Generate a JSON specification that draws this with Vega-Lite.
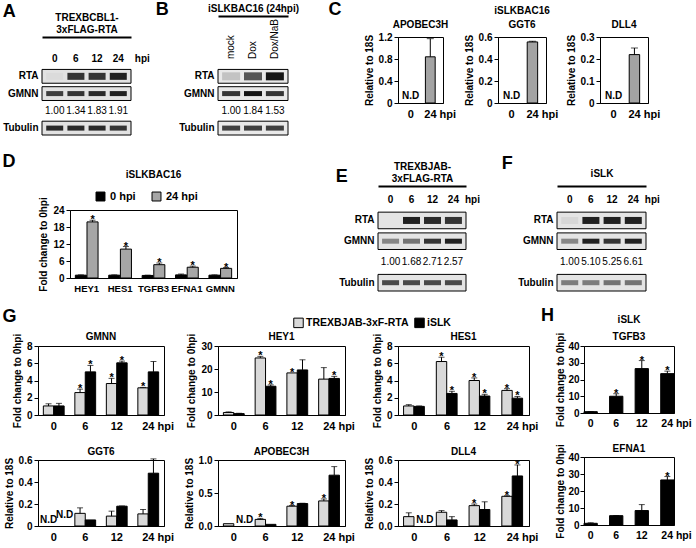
{
"$schema":"https://vega.github.io/schema/vega-lite/v6.json",
"padding":{"left":0,"top":0,"right":0,"bottom":0},
"background":"white",
"config":{
 "font":"Liberation Sans",
 "view":{"stroke":"black","strokeWidth":1},
 "axis":{"labelFont":"Liberation Sans","labelFontWeight":"bold","labelFontSize":10,"labelColor":"black","titleFont":"Liberation Sans","titleFontWeight":"bold","titleFontSize":10,"titleColor":"black","domainColor":"black","tickColor":"black","grid":false,"tickSize":4,"labelPadding":2,"titlePadding":4,"labelOverlap":false},
 "title":{"font":"Liberation Sans","fontWeight":"bold","fontSize":10,"color":"black","offset":4},
 "legend":{"labelFont":"Liberation Sans","labelFontWeight":"bold","labelFontSize":11,"labelColor":"black","padding":0},
 "text":{"font":"Liberation Sans","color":"black"},
 "tick":{"color":"black"},
 "rule":{"color":"black"}
},
"datasets":{
 "blotA":[
  {"kind":"lane","row":"lane","lane":"0","label":"0"},{"kind":"lane","row":"lane","lane":"6","label":"6"},{"kind":"lane","row":"lane","lane":"12","label":"12"},{"kind":"lane","row":"lane","lane":"24","label":"24"},
  {"kind":"hpi","row":"lane","lane":"24","label":"hpi"},
  {"kind":"frame","row":"RTA"},{"kind":"frame","row":"GMNN"},{"kind":"frame","row":"Tubulin"},
  {"kind":"band","row":"RTA","lane":"0","v":0.03},{"kind":"band","row":"RTA","lane":"6","v":0.85},{"kind":"band","row":"RTA","lane":"12","v":0.85},{"kind":"band","row":"RTA","lane":"24","v":0.95},
  {"kind":"band","row":"GMNN","lane":"0","v":0.8},{"kind":"band","row":"GMNN","lane":"6","v":0.85},{"kind":"band","row":"GMNN","lane":"12","v":0.9},{"kind":"band","row":"GMNN","lane":"24","v":0.95},
  {"kind":"band","row":"Tubulin","lane":"0","v":0.9},{"kind":"band","row":"Tubulin","lane":"6","v":0.9},{"kind":"band","row":"Tubulin","lane":"12","v":0.9},{"kind":"band","row":"Tubulin","lane":"24","v":0.85},
  {"kind":"ratio","row":"ratio","lane":"0","label":"1.00"},{"kind":"ratio","row":"ratio","lane":"6","label":"1.34"},{"kind":"ratio","row":"ratio","lane":"12","label":"1.83"},{"kind":"ratio","row":"ratio","lane":"24","label":"1.91"}
 ],
 "blotB":[
  {"kind":"lane","row":"lane","lane":"mock","label":"mock"},{"kind":"lane","row":"lane","lane":"Dox","label":"Dox"},{"kind":"lane","row":"lane","lane":"Dox/NaB","label":"Dox/NaB"},
  {"kind":"frame","row":"RTA"},{"kind":"frame","row":"GMNN"},{"kind":"frame","row":"Tubulin"},
  {"kind":"band","row":"RTA","lane":"mock","v":0.18},{"kind":"band","row":"RTA","lane":"Dox","v":0.7},{"kind":"band","row":"RTA","lane":"Dox/NaB","v":1.0},
  {"kind":"band","row":"GMNN","lane":"mock","v":0.85},{"kind":"band","row":"GMNN","lane":"Dox","v":1.0},{"kind":"band","row":"GMNN","lane":"Dox/NaB","v":0.85},
  {"kind":"band","row":"Tubulin","lane":"mock","v":0.8},{"kind":"band","row":"Tubulin","lane":"Dox","v":0.8},{"kind":"band","row":"Tubulin","lane":"Dox/NaB","v":0.8},
  {"kind":"ratio","row":"ratio","lane":"mock","label":"1.00"},{"kind":"ratio","row":"ratio","lane":"Dox","label":"1.84"},{"kind":"ratio","row":"ratio","lane":"Dox/NaB","label":"1.53"}
 ],
 "blotE":[
  {"kind":"lane","row":"lane","lane":"0","label":"0"},{"kind":"lane","row":"lane","lane":"6","label":"6"},{"kind":"lane","row":"lane","lane":"12","label":"12"},{"kind":"lane","row":"lane","lane":"24","label":"24"},
  {"kind":"hpi","row":"lane","lane":"24","label":"hpi"},
  {"kind":"frame","row":"RTA"},{"kind":"frame","row":"GMNN"},{"kind":"frame","row":"Tubulin"},
  {"kind":"band","row":"RTA","lane":"0","v":0.0},{"kind":"band","row":"RTA","lane":"6","v":0.95},{"kind":"band","row":"RTA","lane":"12","v":0.9},{"kind":"band","row":"RTA","lane":"24","v":0.85},
  {"kind":"band","row":"GMNN","lane":"0","v":0.45},{"kind":"band","row":"GMNN","lane":"6","v":0.55},{"kind":"band","row":"GMNN","lane":"12","v":0.85},{"kind":"band","row":"GMNN","lane":"24","v":0.95},
  {"kind":"band","row":"Tubulin","lane":"0","v":0.75},{"kind":"band","row":"Tubulin","lane":"6","v":0.75},{"kind":"band","row":"Tubulin","lane":"12","v":0.75},{"kind":"band","row":"Tubulin","lane":"24","v":0.75},
  {"kind":"ratio","row":"ratio","lane":"0","label":"1.00"},{"kind":"ratio","row":"ratio","lane":"6","label":"1.68"},{"kind":"ratio","row":"ratio","lane":"12","label":"2.71"},{"kind":"ratio","row":"ratio","lane":"24","label":"2.57"}
 ],
 "blotF":[
  {"kind":"lane","row":"lane","lane":"0","label":"0"},{"kind":"lane","row":"lane","lane":"6","label":"6"},{"kind":"lane","row":"lane","lane":"12","label":"12"},{"kind":"lane","row":"lane","lane":"24","label":"24"},
  {"kind":"hpi","row":"lane","lane":"24","label":"hpi"},
  {"kind":"frame","row":"RTA"},{"kind":"frame","row":"GMNN"},{"kind":"frame","row":"Tubulin"},
  {"kind":"band","row":"RTA","lane":"0","v":0.06},{"kind":"band","row":"RTA","lane":"6","v":0.95},{"kind":"band","row":"RTA","lane":"12","v":0.95},{"kind":"band","row":"RTA","lane":"24","v":0.95},
  {"kind":"band","row":"GMNN","lane":"0","v":0.45},{"kind":"band","row":"GMNN","lane":"6","v":0.95},{"kind":"band","row":"GMNN","lane":"12","v":0.85},{"kind":"band","row":"GMNN","lane":"24","v":0.95},
  {"kind":"band","row":"Tubulin","lane":"0","v":0.5},{"kind":"band","row":"Tubulin","lane":"6","v":0.5},{"kind":"band","row":"Tubulin","lane":"12","v":0.55},{"kind":"band","row":"Tubulin","lane":"24","v":0.55},
  {"kind":"ratio","row":"ratio","lane":"0","label":"1.00"},{"kind":"ratio","row":"ratio","lane":"6","label":"5.10"},{"kind":"ratio","row":"ratio","lane":"12","label":"5.25"},{"kind":"ratio","row":"ratio","lane":"24","label":"6.61"}
 ],
 "cApo":[{"t":"0","nd":"N.D"},{"t":"24","v":0.84,"hi":1.17}],
 "cGgt":[{"t":"0","nd":"N.D"},{"t":"24","v":0.555,"hi":0.562}],
 "cDll":[{"t":"0","nd":"N.D"},{"t":"24","v":0.22,"hi":0.25}],
 "d":[
  {"gene":"HEY1","cell":"0 hpi","v":1.0,"hi":1.1},{"gene":"HEY1","cell":"24 hpi","v":19.8,"hi":20.4,"s":"*"},
  {"gene":"HES1","cell":"0 hpi","v":1.0,"hi":1.1},{"gene":"HES1","cell":"24 hpi","v":10.2,"hi":11.1,"s":"*"},
  {"gene":"TGFB3","cell":"0 hpi","v":0.9,"hi":1.0},{"gene":"TGFB3","cell":"24 hpi","v":4.7,"hi":5.3,"s":"*"},
  {"gene":"EFNA1","cell":"0 hpi","v":1.1,"hi":1.4},{"gene":"EFNA1","cell":"24 hpi","v":3.8,"hi":4.2,"s":"*"},
  {"gene":"GMNN","cell":"0 hpi","v":1.0,"hi":1.1},{"gene":"GMNN","cell":"24 hpi","v":3.4,"hi":3.7,"s":"*"}
 ],
 "gmnn":[
  {"t":"0","cell":"TREXBJAB-3xF-RTA","v":1.05,"hi":1.3},{"t":"0","cell":"iSLK","v":1.05,"hi":1.35},
  {"t":"6","cell":"TREXBJAB-3xF-RTA","v":2.6,"hi":3.0,"s":"*"},{"t":"6","cell":"iSLK","v":5.0,"hi":5.75,"s":"*"},
  {"t":"12","cell":"TREXBJAB-3xF-RTA","v":3.65,"hi":4.25,"s":"*"},{"t":"12","cell":"iSLK","v":6.05,"hi":6.25,"s":"*"},
  {"t":"24","cell":"TREXBJAB-3xF-RTA","v":3.15,"hi":3.2,"s":"*"},{"t":"24","cell":"iSLK","v":5.0,"hi":6.2}
 ],
 "hey1":[
  {"t":"0","cell":"TREXBJAB-3xF-RTA","v":1.1,"hi":1.35},{"t":"0","cell":"iSLK","v":0.6,"hi":0.75},
  {"t":"6","cell":"TREXBJAB-3xF-RTA","v":24.8,"hi":25.5,"s":"*"},{"t":"6","cell":"iSLK","v":12.5,"hi":13.1,"s":"*"},
  {"t":"12","cell":"TREXBJAB-3xF-RTA","v":18.3,"hi":18.3,"s":"*"},{"t":"12","cell":"iSLK","v":19.6,"hi":24.0},
  {"t":"24","cell":"TREXBJAB-3xF-RTA","v":15.6,"hi":20.6},{"t":"24","cell":"iSLK","v":15.9,"hi":16.8,"s":"*"}
 ],
 "hes1":[
  {"t":"0","cell":"TREXBJAB-3xF-RTA","v":1.05,"hi":1.2},{"t":"0","cell":"iSLK","v":1.0,"hi":1.05},
  {"t":"6","cell":"TREXBJAB-3xF-RTA","v":6.2,"hi":6.7,"s":"*"},{"t":"6","cell":"iSLK","v":2.5,"hi":2.75,"s":"*"},
  {"t":"12","cell":"TREXBJAB-3xF-RTA","v":4.0,"hi":4.3,"s":"*"},{"t":"12","cell":"iSLK","v":2.2,"hi":2.4,"s":"*"},
  {"t":"24","cell":"TREXBJAB-3xF-RTA","v":2.85,"hi":3.05,"s":"*"},{"t":"24","cell":"iSLK","v":1.95,"hi":2.15,"s":"*"}
 ],
 "ggt6":[
  {"t":"0","cell":"TREXBJAB-3xF-RTA","nd":"N.D"},{"t":"0","cell":"iSLK","nd":"N.D"},
  {"t":"6","cell":"TREXBJAB-3xF-RTA","v":0.115,"hi":0.165},{"t":"6","cell":"iSLK","v":0.055,"hi":0.055},
  {"t":"12","cell":"TREXBJAB-3xF-RTA","v":0.09,"hi":0.135},{"t":"12","cell":"iSLK","v":0.18,"hi":0.182},
  {"t":"24","cell":"TREXBJAB-3xF-RTA","v":0.11,"hi":0.15},{"t":"24","cell":"iSLK","v":0.48,"hi":0.61}
 ],
 "apo":[
  {"t":"0","cell":"TREXBJAB-3xF-RTA","v":0.035,"hi":0.035},{"t":"0","cell":"iSLK","nd":"N.D"},
  {"t":"6","cell":"TREXBJAB-3xF-RTA","v":0.1,"hi":0.115,"s":"*"},{"t":"6","cell":"iSLK","v":0.025,"hi":0.025},
  {"t":"12","cell":"TREXBJAB-3xF-RTA","v":0.3,"hi":0.31,"s":"*"},{"t":"12","cell":"iSLK","v":0.34,"hi":0.345},
  {"t":"24","cell":"TREXBJAB-3xF-RTA","v":0.38,"hi":0.41,"s":"*"},{"t":"24","cell":"iSLK","v":0.77,"hi":0.9}
 ],
 "dll4":[
  {"t":"0","cell":"TREXBJAB-3xF-RTA","v":0.085,"hi":0.12},{"t":"0","cell":"iSLK","nd":"N.D"},
  {"t":"6","cell":"TREXBJAB-3xF-RTA","v":0.125,"hi":0.14},{"t":"6","cell":"iSLK","v":0.055,"hi":0.085},
  {"t":"12","cell":"TREXBJAB-3xF-RTA","v":0.185,"hi":0.2,"s":"*"},{"t":"12","cell":"iSLK","v":0.15,"hi":0.22},
  {"t":"24","cell":"TREXBJAB-3xF-RTA","v":0.27,"hi":0.275,"s":"*"},{"t":"24","cell":"iSLK","v":0.455,"hi":0.555,"s":"*"}
 ],
 "tgfb3":[{"t":"0","v":0.8,"hi":0.9},{"t":"6","v":10.0,"hi":11.5,"s":"*"},{"t":"12","v":26.5,"hi":31.3,"s":"*"},{"t":"24","v":23.5,"hi":25.0,"s":"*"}],
 "efna1":[{"t":"0","v":1.0,"hi":1.3},{"t":"6","v":5.5,"hi":5.6},{"t":"12","v":8.5,"hi":12.0},{"t":"24","v":26.5,"hi":28.5,"s":"*"}],
 "empty":[{}]
},
"resolve":{"scale":{"color":"independent","xOffset":"independent"},"legend":{"color":"independent"}},
"spacing":14,
"vconcat":[
 {"spacing":17,
  "resolve":{"scale":{"color":"independent","xOffset":"independent"},"legend":{"color":"independent"}},
  "vconcat":[
 {"hconcat":[
   {"width":1,"height":1,"view":{"stroke":null},"data":{"name":"empty"},"mark":{"type":"rect","opacity":0},"encoding":{}},
   {"title":{"text":"A","anchor":"start","frame":"bounds","fontSize":18,"dy":13},
    "width":89,"height":98,"view":{"stroke":null},"data":{"name":"blotA"},
    "encoding":{"y":{"field":"row","type":"nominal","scale":{"domain":["lane","RTA","GMNN","ratio","Tubulin"],"paddingInner":0.2,"paddingOuter":0.44,"align":1},"axis":{"title":null,"ticks":false,"domain":false,"labelPadding":4,"labelExpr":"datum.value=='lane'||datum.value=='ratio'?'':datum.value"}}},
    "layer":[
     {"transform":[{"filter":"datum.kind=='frame'"}],"mark":{"type":"rect","fill":"#e2e2e2","stroke":"black","strokeWidth":1}},
     {"transform":[{"filter":"datum.kind=='band'&&datum.row=='RTA'"}],"mark":{"type":"tick","orient":"horizontal","thickness":7,"color":"#151515"},"encoding":{"x":{"field":"lane","type":"nominal","scale":{"domain":["0","6","12","24"],"paddingInner":0,"paddingOuter":0.1},"axis":{"orient":"top","labels":false,"ticks":false,"domainWidth":2,"offset":0,"title":["TREXBCBL1-","3xFLAG-RTA"],"titlePadding":3,"titleLineHeight":12}},"opacity":{"field":"v","type":"quantitative","scale":null},"size":{"value":17}}},
     {"transform":[{"filter":"datum.kind=='band'&&datum.row!='RTA'"}],"mark":{"type":"tick","orient":"horizontal","thickness":5,"color":"#151515"},"encoding":{"x":{"field":"lane","type":"nominal"},"opacity":{"field":"v","type":"quantitative","scale":null},"size":{"value":17}}},
     {"transform":[{"filter":"datum.kind=='lane'"}],"mark":{"type":"text","fontSize":10,"fontWeight":"bold"},"encoding":{"x":{"field":"lane","type":"nominal"},"text":{"field":"label","type":"nominal"}}},
     {"transform":[{"filter":"datum.kind=='ratio'"}],"mark":{"type":"text","fontSize":10},"encoding":{"x":{"field":"lane","type":"nominal"},"text":{"field":"label","type":"nominal"}}},
     {"transform":[{"filter":"datum.kind=='hpi'"}],"mark":{"type":"text","fontSize":10,"fontWeight":"bold","dx":24},"encoding":{"x":{"field":"lane","type":"nominal"},"text":{"field":"label","type":"nominal"}}}
    ]},
   {"width":3,"height":1,"view":{"stroke":null},"data":{"name":"empty"},"mark":{"type":"rect","opacity":0},"encoding":{}},
   {"title":{"text":"B","anchor":"start","frame":"bounds","fontSize":18,"dx":-23,"dy":20},
    "width":70,"height":98,"view":{"stroke":null},"data":{"name":"blotB"},
    "encoding":{"y":{"field":"row","type":"nominal","scale":{"domain":["lane","RTA","GMNN","ratio","Tubulin"],"paddingInner":0.2,"paddingOuter":0.44,"align":1},"axis":{"title":null,"ticks":false,"domain":false,"labelPadding":4,"labelExpr":"datum.value=='lane'||datum.value=='ratio'?'':datum.value"}}},
    "layer":[
     {"transform":[{"filter":"datum.kind=='frame'"}],"mark":{"type":"rect","fill":"#e9e9e9","stroke":"black","strokeWidth":1}},
     {"transform":[{"filter":"datum.kind=='band'&&datum.row=='RTA'"}],"mark":{"type":"tick","orient":"horizontal","thickness":8,"color":"#151515"},"encoding":{"x":{"field":"lane","type":"nominal","scale":{"domain":["mock","Dox","Dox/NaB"],"paddingInner":0,"paddingOuter":0.1},"axis":{"orient":"top","labels":false,"ticks":false,"domainWidth":2,"offset":21,"title":"iSLKBAC16 (24hpi)","titlePadding":3}},"opacity":{"field":"v","type":"quantitative","scale":null},"size":{"value":18}}},
     {"transform":[{"filter":"datum.kind=='band'&&datum.row!='RTA'"}],"mark":{"type":"tick","orient":"horizontal","thickness":5,"color":"#151515"},"encoding":{"x":{"field":"lane","type":"nominal"},"opacity":{"field":"v","type":"quantitative","scale":null},"size":{"value":18}}},
     {"transform":[{"filter":"datum.kind=='lane'"}],"mark":{"type":"text","fontSize":10,"angle":270,"align":"left","baseline":"middle"},"encoding":{"x":{"field":"lane","type":"nominal"},"text":{"field":"label","type":"nominal"}}},
     {"transform":[{"filter":"datum.kind=='ratio'"}],"mark":{"type":"text","fontSize":10},"encoding":{"x":{"field":"lane","type":"nominal"},"text":{"field":"label","type":"nominal"}}}
    ]},
   {"width":27,"height":1,"view":{"stroke":null},"data":{"name":"empty"},"mark":{"type":"rect","opacity":0},"encoding":{}},
   {"title":{"text":"C","anchor":"start","frame":"bounds","fontSize":18,"dx":-35,"dy":17},
    "spacing":6,"align":"each",
    "resolve":{"scale":{"color":"independent","xOffset":"independent"},"legend":{"color":"independent"}},
    "hconcat":[
     {"title":{"text":"APOBEC3H","offset":2},"width":45,"height":66,"data":{"name":"cApo"},
      "encoding":{"x":{"field":"t","type":"ordinal","scale":{"domain":["0","24"],"paddingInner":0.5,"paddingOuter":0.4},"axis":{"title":null,"labelAngle":0,"ticks":false,"labelPadding":5,"labelFontSize":11,"labelExpr":"datum.value=='24'?'24 hpi':datum.label","labelAlign":{"condition":{"test":"datum.value=='24'","value":"left"},"value":"center"},"labelOffset":{"condition":{"test":"datum.value=='24'","value":-6},"value":0}}}},
      "layer":[
       {"transform":[{"filter":"isValid(datum.v)"}],"mark":{"type":"bar","fill":"#a3a3a3","stroke":"black","strokeWidth":1},"encoding":{"y":{"field":"v","type":"quantitative","scale":{"domain":[0,1.2],"nice":false},"axis":{"values":[0,0.4,0.8,1.2],"tickCount":10,"format":"~g","title":"Relative to 18S"}}}},
       {"transform":[{"filter":"isValid(datum.v)&&datum.hi>datum.v"}],"mark":{"type":"rule","color":"black"},"encoding":{"y":{"field":"v","type":"quantitative"},"y2":{"field":"hi"}}},
       {"transform":[{"filter":"isValid(datum.v)"}],"mark":{"type":"tick","orient":"horizontal","thickness":1,"color":"black"},"encoding":{"y":{"field":"hi","type":"quantitative"},"size":{"value":7}}},
       {"transform":[{"filter":"datum.nd=='N.D'"}],"mark":{"type":"text","baseline":"bottom","dy":-2,"fontWeight":"bold","fontSize":10},"encoding":{"y":{"datum":0,"type":"quantitative"},"text":{"field":"nd","type":"nominal"}}}
      ]},
     {"title":{"text":["iSLKBAC16","GGT6"],"offset":2,"lineHeight":14},"width":48,"height":66,"data":{"name":"cGgt"},
      "encoding":{"x":{"field":"t","type":"ordinal","scale":{"domain":["0","24"],"paddingInner":0.5,"paddingOuter":0.4},"axis":{"title":null,"labelAngle":0,"ticks":false,"labelPadding":5,"labelFontSize":11,"labelExpr":"datum.value=='24'?'24 hpi':datum.label","labelAlign":{"condition":{"test":"datum.value=='24'","value":"left"},"value":"center"},"labelOffset":{"condition":{"test":"datum.value=='24'","value":-6},"value":0}}}},
      "layer":[
       {"transform":[{"filter":"isValid(datum.v)"}],"mark":{"type":"bar","fill":"#a3a3a3","stroke":"black","strokeWidth":1},"encoding":{"y":{"field":"v","type":"quantitative","scale":{"domain":[0,0.6],"nice":false},"axis":{"values":[0,0.2,0.4,0.6],"tickCount":10,"format":"~g","title":"Relative to 18S"}}}},
       {"transform":[{"filter":"isValid(datum.v)&&datum.hi>datum.v"}],"mark":{"type":"rule","color":"black"},"encoding":{"y":{"field":"v","type":"quantitative"},"y2":{"field":"hi"}}},
       {"transform":[{"filter":"isValid(datum.v)"}],"mark":{"type":"tick","orient":"horizontal","thickness":1,"color":"black"},"encoding":{"y":{"field":"hi","type":"quantitative"},"size":{"value":7}}},
       {"transform":[{"filter":"datum.nd=='N.D'"}],"mark":{"type":"text","baseline":"bottom","dy":-2,"fontWeight":"bold","fontSize":10},"encoding":{"y":{"datum":0,"type":"quantitative"},"text":{"field":"nd","type":"nominal"}}}
      ]},
     {"title":{"text":"DLL4","offset":2},"width":48,"height":66,"data":{"name":"cDll"},
      "encoding":{"x":{"field":"t","type":"ordinal","scale":{"domain":["0","24"],"paddingInner":0.5,"paddingOuter":0.4},"axis":{"title":null,"labelAngle":0,"ticks":false,"labelPadding":5,"labelFontSize":11,"labelExpr":"datum.value=='24'?'24 hpi':datum.label","labelAlign":{"condition":{"test":"datum.value=='24'","value":"left"},"value":"center"},"labelOffset":{"condition":{"test":"datum.value=='24'","value":-6},"value":0}}}},
      "layer":[
       {"transform":[{"filter":"isValid(datum.v)"}],"mark":{"type":"bar","fill":"#a3a3a3","stroke":"black","strokeWidth":1},"encoding":{"y":{"field":"v","type":"quantitative","scale":{"domain":[0,0.3],"nice":false},"axis":{"values":[0,0.1,0.2,0.3],"tickCount":10,"format":"~g","title":"Relative to 18S"}}}},
       {"transform":[{"filter":"isValid(datum.v)&&datum.hi>datum.v"}],"mark":{"type":"rule","color":"black"},"encoding":{"y":{"field":"v","type":"quantitative"},"y2":{"field":"hi"}}},
       {"transform":[{"filter":"isValid(datum.v)"}],"mark":{"type":"tick","orient":"horizontal","thickness":1,"color":"black"},"encoding":{"y":{"field":"hi","type":"quantitative"},"size":{"value":7}}},
       {"transform":[{"filter":"datum.nd=='N.D'"}],"mark":{"type":"text","baseline":"bottom","dy":-2,"fontWeight":"bold","fontSize":10},"encoding":{"y":{"datum":0,"type":"quantitative"},"text":{"field":"nd","type":"nominal"}}}
      ]}
    ]}
  ],
  "spacing":1,"align":"each",
  "resolve":{"scale":{"color":"independent","xOffset":"independent"},"legend":{"color":"independent"}}},
 {"hconcat":[
   {"width":1,"height":1,"view":{"stroke":null},"data":{"name":"empty"},"mark":{"type":"rect","opacity":0},"encoding":{}},
   {"title":{"text":"D","anchor":"start","frame":"bounds","fontSize":18,"dx":-36,"dy":5},
    "spacing":3,
    "resolve":{"scale":{"color":"independent","xOffset":"independent"},"legend":{"color":"independent"}},
    "vconcat":[
     {"width":167,"height":1,"view":{"stroke":null},"title":{"text":"iSLKBAC16","offset":6},"data":{"name":"empty"},"mark":{"type":"rect","opacity":0},"encoding":{}},
     {"width":167,"height":68,"data":{"name":"d"},
      "encoding":{"x":{"field":"gene","type":"nominal","scale":{"domain":["HEY1","HES1","TGFB3","EFNA1","GMNN"],"paddingInner":0.32,"paddingOuter":0.16},"axis":{"title":null,"labelAngle":0,"ticks":false,"labelPadding":5,"labelFontSize":9.5}},
                  "xOffset":{"field":"cell","type":"nominal","scale":{"domain":["0 hpi","24 hpi"],"paddingInner":0.05}}},
      "layer":[
       {"mark":{"type":"bar","stroke":"black","strokeWidth":1},"encoding":{"y":{"field":"v","type":"quantitative","scale":{"domain":[0,24],"nice":false},"axis":{"values":[0,6,12,18,24],"tickCount":10,"title":"Fold change to 0hpi"}},"color":{"field":"cell","type":"nominal","scale":{"domain":["0 hpi","24 hpi"],"range":["#000000","#a6a6a6"]},"legend":{"orient":"none","legendX":25,"legendY":-19,"direction":"horizontal","title":null,"symbolType":"square","symbolSize":80,"symbolStrokeColor":"black","symbolStrokeWidth":1,"labelFontSize":11,"labelOffset":4,"columnPadding":14}}}},
       {"mark":{"type":"rule","color":"black"},"encoding":{"y":{"field":"v","type":"quantitative"},"y2":{"field":"hi"}}},
       {"mark":{"type":"tick","orient":"horizontal","thickness":1,"color":"black"},"encoding":{"y":{"field":"hi","type":"quantitative"},"size":{"value":6}}},
       {"transform":[{"filter":"datum.s=='*'"}],"mark":{"type":"text","fontSize":11,"fontWeight":"bold","baseline":"alphabetic","dy":3},"encoding":{"y":{"field":"hi","type":"quantitative"},"text":{"field":"s","type":"nominal"}}}
      ]}
    ]},
   {"width":95,"height":1,"view":{"stroke":null},"data":{"name":"empty"},"mark":{"type":"rect","opacity":0},"encoding":{}},
   {"title":{"text":"E","anchor":"start","frame":"bounds","fontSize":18,"dx":-3,"dy":29},
    "width":88,"height":105,"view":{"stroke":null},"data":{"name":"blotE"},
    "encoding":{"y":{"field":"row","type":"nominal","scale":{"domain":["lane","RTA","GMNN","ratio","Tubulin"],"paddingInner":0.2,"paddingOuter":0.13,"align":1},"axis":{"title":null,"ticks":false,"domain":false,"labelPadding":4,"labelExpr":"datum.value=='lane'||datum.value=='ratio'?'':datum.value"}}},
    "layer":[
     {"transform":[{"filter":"datum.kind=='frame'"}],"mark":{"type":"rect","fill":"#e4e4e4","stroke":"black","strokeWidth":1}},
     {"transform":[{"filter":"datum.kind=='band'&&datum.row=='RTA'"}],"mark":{"type":"tick","orient":"horizontal","thickness":7,"color":"#151515"},"encoding":{"x":{"field":"lane","type":"nominal","scale":{"domain":["0","6","12","24"],"paddingInner":0,"paddingOuter":0.1},"axis":{"orient":"top","labels":false,"ticks":false,"domainWidth":2,"offset":0,"title":["TREXBJAB-","3xFLAG-RTA"],"titlePadding":3,"titleLineHeight":12}},"opacity":{"field":"v","type":"quantitative","scale":null},"size":{"value":17}}},
     {"transform":[{"filter":"datum.kind=='band'&&datum.row!='RTA'"}],"mark":{"type":"tick","orient":"horizontal","thickness":5,"color":"#151515"},"encoding":{"x":{"field":"lane","type":"nominal"},"opacity":{"field":"v","type":"quantitative","scale":null},"size":{"value":17}}},
     {"transform":[{"filter":"datum.kind=='lane'"}],"mark":{"type":"text","fontSize":10,"fontWeight":"bold"},"encoding":{"x":{"field":"lane","type":"nominal"},"text":{"field":"label","type":"nominal"}}},
     {"transform":[{"filter":"datum.kind=='ratio'"}],"mark":{"type":"text","fontSize":10},"encoding":{"x":{"field":"lane","type":"nominal"},"text":{"field":"label","type":"nominal"}}},
     {"transform":[{"filter":"datum.kind=='hpi'"}],"mark":{"type":"text","fontSize":10,"fontWeight":"bold","dx":19},"encoding":{"x":{"field":"lane","type":"nominal"},"text":{"field":"label","type":"nominal"}}}
    ]},
   {"width":19,"height":1,"view":{"stroke":null},"data":{"name":"empty"},"mark":{"type":"rect","opacity":0},"encoding":{}},
   {"title":{"text":"F","anchor":"start","frame":"bounds","fontSize":18,"dx":-16,"dy":9},
    "width":89,"height":105,"view":{"stroke":null},"data":{"name":"blotF"},
    "encoding":{"y":{"field":"row","type":"nominal","scale":{"domain":["lane","RTA","GMNN","ratio","Tubulin"],"paddingInner":0.2,"paddingOuter":0.13,"align":1},"axis":{"title":null,"ticks":false,"domain":false,"labelPadding":4,"labelExpr":"datum.value=='lane'||datum.value=='ratio'?'':datum.value"}}},
    "layer":[
     {"transform":[{"filter":"datum.kind=='frame'"}],"mark":{"type":"rect","fill":"#e4e4e4","stroke":"black","strokeWidth":1}},
     {"transform":[{"filter":"datum.kind=='band'&&datum.row=='RTA'"}],"mark":{"type":"tick","orient":"horizontal","thickness":7,"color":"#151515"},"encoding":{"x":{"field":"lane","type":"nominal","scale":{"domain":["0","6","12","24"],"paddingInner":0,"paddingOuter":0.1},"axis":{"orient":"top","labels":false,"ticks":false,"domainWidth":2,"offset":0,"title":"iSLK","titlePadding":8}},"opacity":{"field":"v","type":"quantitative","scale":null},"size":{"value":17}}},
     {"transform":[{"filter":"datum.kind=='band'&&datum.row!='RTA'"}],"mark":{"type":"tick","orient":"horizontal","thickness":5,"color":"#151515"},"encoding":{"x":{"field":"lane","type":"nominal"},"opacity":{"field":"v","type":"quantitative","scale":null},"size":{"value":17}}},
     {"transform":[{"filter":"datum.kind=='lane'"}],"mark":{"type":"text","fontSize":10,"fontWeight":"bold"},"encoding":{"x":{"field":"lane","type":"nominal"},"text":{"field":"label","type":"nominal"}}},
     {"transform":[{"filter":"datum.kind=='ratio'"}],"mark":{"type":"text","fontSize":10},"encoding":{"x":{"field":"lane","type":"nominal"},"text":{"field":"label","type":"nominal"}}},
     {"transform":[{"filter":"datum.kind=='hpi'"}],"mark":{"type":"text","fontSize":10,"fontWeight":"bold","dx":19},"encoding":{"x":{"field":"lane","type":"nominal"},"text":{"field":"label","type":"nominal"}}}
    ]}
  ],
  "spacing":1,"align":"each",
  "resolve":{"scale":{"color":"independent","xOffset":"independent"},"legend":{"color":"independent"}}}
  ]},
 {"hconcat":[
   {"width":1,"height":1,"view":{"stroke":null},"data":{"name":"empty"},"mark":{"type":"rect","opacity":0},"encoding":{}},
   {"title":{"text":"G","anchor":"start","frame":"bounds","fontSize":18,"dx":-1,"dy":13},
    "columns":3,"spacing":{"row":14,"column":8},"align":"each",
    "resolve":{"scale":{"color":"shared","xOffset":"shared"},"legend":{"color":"shared"}},
    "concat":[
     {"title":{"text":"GMNN","offset":-9},"width":126,"height":69,"data":{"name":"gmnn"},
      "encoding":{"x":{"field":"t","type":"ordinal","scale":{"domain":["0","6","12","24"],"paddingInner":0.34,"paddingOuter":0.17},"axis":{"title":null,"labelAngle":0,"ticks":false,"labelPadding":5,"labelFontSize":11,"labelExpr":"datum.value=='24'?'24 hpi':datum.label","labelAlign":{"condition":{"test":"datum.value=='24'","value":"left"},"value":"center"},"labelOffset":{"condition":{"test":"datum.value=='24'","value":-6},"value":0}}},
                  "xOffset":{"field":"cell","type":"nominal","scale":{"domain":["TREXBJAB-3xF-RTA","iSLK"]}}},
      "layer":[
       {"transform":[{"filter":"isValid(datum.v)"}],"mark":{"type":"bar","stroke":"black","strokeWidth":1},"encoding":{"y":{"field":"v","type":"quantitative","scale":{"domain":[0,8],"nice":false},"axis":{"values":[0,2,4,6,8],"tickCount":10,"title":"Fold change to 0hpi"}},"color":{"field":"cell","type":"nominal","scale":{"domain":["TREXBJAB-3xF-RTA","iSLK"],"range":["#d9d9d9","#000000"]},"legend":{"orient":"none","legendX":255,"legendY":-29,"direction":"horizontal","title":null,"symbolType":"square","symbolSize":90,"symbolStrokeColor":"black","symbolStrokeWidth":1,"labelFontSize":10.5,"labelOffset":2,"columnPadding":3}}}},
       {"transform":[{"filter":"isValid(datum.v)&&datum.hi>datum.v"}],"mark":{"type":"rule","color":"black"},"encoding":{"y":{"field":"v","type":"quantitative"},"y2":{"field":"hi"}}},
       {"transform":[{"filter":"isValid(datum.v)&&datum.hi>datum.v"}],"mark":{"type":"tick","orient":"horizontal","thickness":1,"color":"black"},"encoding":{"y":{"field":"hi","type":"quantitative"},"size":{"value":6}}},
       {"transform":[{"filter":"datum.s=='*'"}],"mark":{"type":"text","fontSize":11,"fontWeight":"bold","baseline":"alphabetic","dy":3},"encoding":{"y":{"field":"hi","type":"quantitative"},"text":{"field":"s","type":"nominal"}}}
      ]},
     {"title":{"text":"HEY1","offset":-9},"width":127,"height":69,"data":{"name":"hey1"},
      "encoding":{"x":{"field":"t","type":"ordinal","scale":{"domain":["0","6","12","24"],"paddingInner":0.34,"paddingOuter":0.17},"axis":{"title":null,"labelAngle":0,"ticks":false,"labelPadding":5,"labelFontSize":11,"labelExpr":"datum.value=='24'?'24 hpi':datum.label","labelAlign":{"condition":{"test":"datum.value=='24'","value":"left"},"value":"center"},"labelOffset":{"condition":{"test":"datum.value=='24'","value":-6},"value":0}}},
                  "xOffset":{"field":"cell","type":"nominal","scale":{"domain":["TREXBJAB-3xF-RTA","iSLK"]}}},
      "layer":[
       {"transform":[{"filter":"isValid(datum.v)"}],"mark":{"type":"bar","stroke":"black","strokeWidth":1},"encoding":{"y":{"field":"v","type":"quantitative","scale":{"domain":[0,30],"nice":false},"axis":{"values":[0,10,20,30],"tickCount":10,"title":"Fold change to 0hpi"}},"color":{"field":"cell","type":"nominal","scale":{"domain":["TREXBJAB-3xF-RTA","iSLK"],"range":["#d9d9d9","#000000"]},"legend":{"orient":"none","legendX":255,"legendY":-29,"direction":"horizontal","title":null,"symbolType":"square","symbolSize":90,"symbolStrokeColor":"black","symbolStrokeWidth":1,"labelFontSize":10.5,"labelOffset":2,"columnPadding":3}}}},
       {"transform":[{"filter":"isValid(datum.v)&&datum.hi>datum.v"}],"mark":{"type":"rule","color":"black"},"encoding":{"y":{"field":"v","type":"quantitative"},"y2":{"field":"hi"}}},
       {"transform":[{"filter":"isValid(datum.v)&&datum.hi>datum.v"}],"mark":{"type":"tick","orient":"horizontal","thickness":1,"color":"black"},"encoding":{"y":{"field":"hi","type":"quantitative"},"size":{"value":6}}},
       {"transform":[{"filter":"datum.s=='*'"}],"mark":{"type":"text","fontSize":11,"fontWeight":"bold","baseline":"alphabetic","dy":3},"encoding":{"y":{"field":"hi","type":"quantitative"},"text":{"field":"s","type":"nominal"}}}
      ]},
     {"title":{"text":"HES1","offset":-9},"width":131,"height":69,"data":{"name":"hes1"},
      "encoding":{"x":{"field":"t","type":"ordinal","scale":{"domain":["0","6","12","24"],"paddingInner":0.34,"paddingOuter":0.17},"axis":{"title":null,"labelAngle":0,"ticks":false,"labelPadding":5,"labelFontSize":11,"labelExpr":"datum.value=='24'?'24 hpi':datum.label","labelAlign":{"condition":{"test":"datum.value=='24'","value":"left"},"value":"center"},"labelOffset":{"condition":{"test":"datum.value=='24'","value":-6},"value":0}}},
                  "xOffset":{"field":"cell","type":"nominal","scale":{"domain":["TREXBJAB-3xF-RTA","iSLK"]}}},
      "layer":[
       {"transform":[{"filter":"isValid(datum.v)"}],"mark":{"type":"bar","stroke":"black","strokeWidth":1},"encoding":{"y":{"field":"v","type":"quantitative","scale":{"domain":[0,8],"nice":false},"axis":{"values":[0,2,4,6,8],"tickCount":10,"title":"Fold change to 0hpi"}},"color":{"field":"cell","type":"nominal","scale":{"domain":["TREXBJAB-3xF-RTA","iSLK"],"range":["#d9d9d9","#000000"]},"legend":{"orient":"none","legendX":255,"legendY":-29,"direction":"horizontal","title":null,"symbolType":"square","symbolSize":90,"symbolStrokeColor":"black","symbolStrokeWidth":1,"labelFontSize":10.5,"labelOffset":2,"columnPadding":3}}}},
       {"transform":[{"filter":"isValid(datum.v)&&datum.hi>datum.v"}],"mark":{"type":"rule","color":"black"},"encoding":{"y":{"field":"v","type":"quantitative"},"y2":{"field":"hi"}}},
       {"transform":[{"filter":"isValid(datum.v)&&datum.hi>datum.v"}],"mark":{"type":"tick","orient":"horizontal","thickness":1,"color":"black"},"encoding":{"y":{"field":"hi","type":"quantitative"},"size":{"value":6}}},
       {"transform":[{"filter":"datum.s=='*'"}],"mark":{"type":"text","fontSize":11,"fontWeight":"bold","baseline":"alphabetic","dy":3},"encoding":{"y":{"field":"hi","type":"quantitative"},"text":{"field":"s","type":"nominal"}}}
      ]},
     {"title":{"text":"GGT6","offset":-2},"width":126,"height":66,"data":{"name":"ggt6"},
      "encoding":{"x":{"field":"t","type":"ordinal","scale":{"domain":["0","6","12","24"],"paddingInner":0.34,"paddingOuter":0.17},"axis":{"title":null,"labelAngle":0,"ticks":false,"labelPadding":5,"labelFontSize":11,"labelExpr":"datum.value=='24'?'24 hpi':datum.label","labelAlign":{"condition":{"test":"datum.value=='24'","value":"left"},"value":"center"},"labelOffset":{"condition":{"test":"datum.value=='24'","value":-6},"value":0}}},
                  "xOffset":{"field":"cell","type":"nominal","scale":{"domain":["TREXBJAB-3xF-RTA","iSLK"]}}},
      "layer":[
       {"transform":[{"filter":"isValid(datum.v)"}],"mark":{"type":"bar","stroke":"black","strokeWidth":1},"encoding":{"y":{"field":"v","type":"quantitative","scale":{"domain":[0,0.6],"nice":false},"axis":{"values":[0,0.2,0.4,0.6],"tickCount":10,"format":"~g","title":"Relative to 18S"}},"color":{"field":"cell","type":"nominal","scale":{"domain":["TREXBJAB-3xF-RTA","iSLK"],"range":["#d9d9d9","#000000"]},"legend":{"orient":"none","legendX":255,"legendY":-29,"direction":"horizontal","title":null,"symbolType":"square","symbolSize":90,"symbolStrokeColor":"black","symbolStrokeWidth":1,"labelFontSize":10.5,"labelOffset":2,"columnPadding":3}}}},
       {"transform":[{"filter":"isValid(datum.v)&&datum.hi>datum.v"}],"mark":{"type":"rule","color":"black"},"encoding":{"y":{"field":"v","type":"quantitative"},"y2":{"field":"hi"}}},
       {"transform":[{"filter":"isValid(datum.v)&&datum.hi>datum.v"}],"mark":{"type":"tick","orient":"horizontal","thickness":1,"color":"black"},"encoding":{"y":{"field":"hi","type":"quantitative"},"size":{"value":6}}},
       {"transform":[{"filter":"datum.nd=='N.D'&&datum.cell!='iSLK'"}],"mark":{"type":"text","fontSize":10,"fontWeight":"bold","baseline":"bottom","dy":-1},"encoding":{"y":{"datum":0,"type":"quantitative"},"text":{"field":"nd","type":"nominal"}}},
       {"transform":[{"filter":"datum.nd=='N.D'&&datum.cell=='iSLK'"}],"mark":{"type":"text","fontSize":10,"fontWeight":"bold","baseline":"bottom","align":"left","dx":-3,"dy":-6},"encoding":{"y":{"datum":0,"type":"quantitative"},"text":{"field":"nd","type":"nominal"}}}
      ]},
     {"title":{"text":"APOBEC3H","offset":-2},"width":127,"height":66,"data":{"name":"apo"},
      "encoding":{"x":{"field":"t","type":"ordinal","scale":{"domain":["0","6","12","24"],"paddingInner":0.34,"paddingOuter":0.17},"axis":{"title":null,"labelAngle":0,"ticks":false,"labelPadding":5,"labelFontSize":11,"labelExpr":"datum.value=='24'?'24 hpi':datum.label","labelAlign":{"condition":{"test":"datum.value=='24'","value":"left"},"value":"center"},"labelOffset":{"condition":{"test":"datum.value=='24'","value":-6},"value":0}}},
                  "xOffset":{"field":"cell","type":"nominal","scale":{"domain":["TREXBJAB-3xF-RTA","iSLK"]}}},
      "layer":[
       {"transform":[{"filter":"isValid(datum.v)"}],"mark":{"type":"bar","stroke":"black","strokeWidth":1},"encoding":{"y":{"field":"v","type":"quantitative","scale":{"domain":[0,1],"nice":false},"axis":{"values":[0,0.5,1],"tickCount":10,"format":".1f","title":"Relative to 18S"}},"color":{"field":"cell","type":"nominal","scale":{"domain":["TREXBJAB-3xF-RTA","iSLK"],"range":["#d9d9d9","#000000"]},"legend":{"orient":"none","legendX":255,"legendY":-29,"direction":"horizontal","title":null,"symbolType":"square","symbolSize":90,"symbolStrokeColor":"black","symbolStrokeWidth":1,"labelFontSize":10.5,"labelOffset":2,"columnPadding":3}}}},
       {"transform":[{"filter":"isValid(datum.v)&&datum.hi>datum.v"}],"mark":{"type":"rule","color":"black"},"encoding":{"y":{"field":"v","type":"quantitative"},"y2":{"field":"hi"}}},
       {"transform":[{"filter":"isValid(datum.v)&&datum.hi>datum.v"}],"mark":{"type":"tick","orient":"horizontal","thickness":1,"color":"black"},"encoding":{"y":{"field":"hi","type":"quantitative"},"size":{"value":6}}},
       {"transform":[{"filter":"datum.s=='*'"}],"mark":{"type":"text","fontSize":11,"fontWeight":"bold","baseline":"alphabetic","dy":3},"encoding":{"y":{"field":"hi","type":"quantitative"},"text":{"field":"s","type":"nominal"}}},
       {"transform":[{"filter":"datum.nd=='N.D'&&datum.cell=='iSLK'"}],"mark":{"type":"text","fontSize":10,"fontWeight":"bold","baseline":"bottom","align":"left","dx":-3,"dy":-1},"encoding":{"y":{"datum":0,"type":"quantitative"},"text":{"field":"nd","type":"nominal"}}}
      ]},
     {"title":{"text":"DLL4","offset":-2},"width":131,"height":66,"data":{"name":"dll4"},
      "encoding":{"x":{"field":"t","type":"ordinal","scale":{"domain":["0","6","12","24"],"paddingInner":0.34,"paddingOuter":0.17},"axis":{"title":null,"labelAngle":0,"ticks":false,"labelPadding":5,"labelFontSize":11,"labelExpr":"datum.value=='24'?'24 hpi':datum.label","labelAlign":{"condition":{"test":"datum.value=='24'","value":"left"},"value":"center"},"labelOffset":{"condition":{"test":"datum.value=='24'","value":-6},"value":0}}},
                  "xOffset":{"field":"cell","type":"nominal","scale":{"domain":["TREXBJAB-3xF-RTA","iSLK"]}}},
      "layer":[
       {"transform":[{"filter":"isValid(datum.v)"}],"mark":{"type":"bar","stroke":"black","strokeWidth":1},"encoding":{"y":{"field":"v","type":"quantitative","scale":{"domain":[0,0.6],"nice":false},"axis":{"values":[0,0.2,0.4,0.6],"tickCount":10,"format":".1f","title":"Relative to 18S"}},"color":{"field":"cell","type":"nominal","scale":{"domain":["TREXBJAB-3xF-RTA","iSLK"],"range":["#d9d9d9","#000000"]},"legend":{"orient":"none","legendX":255,"legendY":-29,"direction":"horizontal","title":null,"symbolType":"square","symbolSize":90,"symbolStrokeColor":"black","symbolStrokeWidth":1,"labelFontSize":10.5,"labelOffset":2,"columnPadding":3}}}},
       {"transform":[{"filter":"isValid(datum.v)&&datum.hi>datum.v"}],"mark":{"type":"rule","color":"black"},"encoding":{"y":{"field":"v","type":"quantitative"},"y2":{"field":"hi"}}},
       {"transform":[{"filter":"isValid(datum.v)&&datum.hi>datum.v"}],"mark":{"type":"tick","orient":"horizontal","thickness":1,"color":"black"},"encoding":{"y":{"field":"hi","type":"quantitative"},"size":{"value":6}}},
       {"transform":[{"filter":"datum.s=='*'"}],"mark":{"type":"text","fontSize":11,"fontWeight":"bold","baseline":"alphabetic","dy":3},"encoding":{"y":{"field":"hi","type":"quantitative"},"text":{"field":"s","type":"nominal"}}},
       {"transform":[{"filter":"datum.nd=='N.D'&&datum.cell=='iSLK'"}],"mark":{"type":"text","fontSize":10,"fontWeight":"bold","baseline":"bottom","align":"left","dx":-3,"dy":-1},"encoding":{"y":{"datum":0,"type":"quantitative"},"text":{"field":"nd","type":"nominal"}}}
      ]}
    ]},
   {"width":1,"height":1,"view":{"stroke":null},"title":{"text":"H","anchor":"start","frame":"group","fontSize":18,"offset":21,"dx":1},"data":{"name":"empty"},"mark":{"type":"rect","opacity":0},"encoding":{}},
   {"spacing":14,
    "resolve":{"scale":{"color":"independent","xOffset":"independent"},"legend":{"color":"independent"}},
    "vconcat":[
     {"title":{"text":["iSLK","TGFB3"],"lineHeight":17,"offset":-10},"width":90,"height":67,"data":{"name":"tgfb3"},
      "encoding":{"x":{"field":"t","type":"ordinal","scale":{"domain":["0","6","12","24"],"paddingInner":0.48,"paddingOuter":0},"axis":{"title":null,"labelAngle":0,"ticks":false,"labelPadding":5,"labelFontSize":10.5,"labelExpr":"datum.value=='24'?'24 hpi':datum.label","labelAlign":{"condition":{"test":"datum.value=='24'","value":"left"},"value":"center"},"labelOffset":{"condition":{"test":"datum.value=='24'","value":-6},"value":0}}}},
      "layer":[
       {"mark":{"type":"bar","fill":"black","stroke":"black","strokeWidth":1},"encoding":{"y":{"field":"v","type":"quantitative","scale":{"domain":[0,40],"nice":false},"axis":{"values":[0,10,20,30,40],"tickCount":10,"labelPadding":1,"titlePadding":2,"title":"Fold change to 0hpi"}}}},
       {"transform":[{"filter":"datum.hi>datum.v"}],"mark":{"type":"rule","color":"black"},"encoding":{"y":{"field":"v","type":"quantitative"},"y2":{"field":"hi"}}},
       {"transform":[{"filter":"datum.hi>datum.v"}],"mark":{"type":"tick","orient":"horizontal","thickness":1,"color":"black"},"encoding":{"y":{"field":"hi","type":"quantitative"},"size":{"value":6}}},
       {"transform":[{"filter":"datum.s=='*'"}],"mark":{"type":"text","fontSize":11,"fontWeight":"bold","baseline":"alphabetic","dy":3},"encoding":{"y":{"field":"hi","type":"quantitative"},"text":{"field":"s","type":"nominal"}}}
      ]},
     {"title":{"text":"EFNA1","offset":-10},"width":90,"height":68,"data":{"name":"efna1"},
      "encoding":{"x":{"field":"t","type":"ordinal","scale":{"domain":["0","6","12","24"],"paddingInner":0.48,"paddingOuter":0},"axis":{"title":null,"labelAngle":0,"ticks":false,"labelPadding":5,"labelFontSize":10.5,"labelExpr":"datum.value=='24'?'24 hpi':datum.label","labelAlign":{"condition":{"test":"datum.value=='24'","value":"left"},"value":"center"},"labelOffset":{"condition":{"test":"datum.value=='24'","value":-6},"value":0}}}},
      "layer":[
       {"mark":{"type":"bar","fill":"black","stroke":"black","strokeWidth":1},"encoding":{"y":{"field":"v","type":"quantitative","scale":{"domain":[0,40],"nice":false},"axis":{"values":[0,10,20,30,40],"tickCount":10,"labelPadding":1,"titlePadding":2,"title":"Fold change to 0hpi"}}}},
       {"transform":[{"filter":"datum.hi>datum.v"}],"mark":{"type":"rule","color":"black"},"encoding":{"y":{"field":"v","type":"quantitative"},"y2":{"field":"hi"}}},
       {"transform":[{"filter":"datum.hi>datum.v"}],"mark":{"type":"tick","orient":"horizontal","thickness":1,"color":"black"},"encoding":{"y":{"field":"hi","type":"quantitative"},"size":{"value":6}}},
       {"transform":[{"filter":"datum.s=='*'"}],"mark":{"type":"text","fontSize":11,"fontWeight":"bold","baseline":"alphabetic","dy":3},"encoding":{"y":{"field":"hi","type":"quantitative"},"text":{"field":"s","type":"nominal"}}}
      ]}
    ]}
  ],
  "spacing":1,"align":"each",
  "resolve":{"scale":{"color":"independent","xOffset":"independent"},"legend":{"color":"independent"}}}
]
}
